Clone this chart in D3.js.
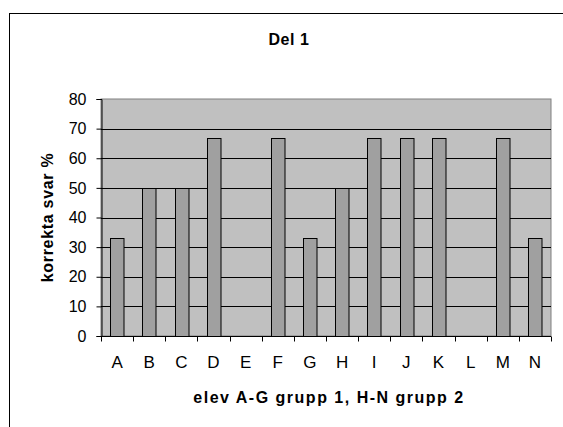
<!DOCTYPE html>
<html>
<head>
<meta charset="utf-8">
<script src="https://cdn.jsdelivr.net/npm/d3@7"></script>
<style>
  body { margin: 0; background: #fff; }
  text { font-family: "Liberation Sans", Arial, sans-serif; }
</style>
</head>
<body>
<script>
// chart data
var students = ["A","B","C","D","E","F","G","H","I","J","K","L","M","N"];
var correctPct = [33, 50, 50, 67, 0, 67, 33, 50, 67, 67, 67, 0, 67, 33];
var yTicks = [0, 10, 20, 30, 40, 50, 60, 70, 80];

var svgWidth = 563, svgHeight = 427;
var margin = { top: 99, right: 12, bottom: 91, left: 101 };
var chartWidth = svgWidth - margin.left - margin.right;
var chartHeight = svgHeight - margin.top - margin.bottom;

var svg = d3.select("body").append("svg")
  .attr("width", svgWidth)
  .attr("height", svgHeight);

// outer chart frame (right/bottom edges run off the picture)
svg.append("rect")
  .attr("x", 9.5).attr("y", 13.5)
  .attr("width", 600).attr("height", 500)
  .attr("fill", "none")
  .attr("stroke", "#000");

var chartGroup = svg.append("g")
  .attr("transform", `translate(${margin.left}, ${margin.top})`);

var x = d3.scaleBand().domain(students).range([0, chartWidth]).paddingInner(0.58).paddingOuter(0.29);
var xBand = d3.scaleBand().domain(students).range([0, chartWidth]);
var y = d3.scaleLinear().domain([0, 80]).range([chartHeight, 0]);

// plot area
chartGroup.append("rect")
  .attr("width", chartWidth).attr("height", chartHeight)
  .attr("fill", "#c0c0c0")
  .attr("stroke", "#808080");

// gridlines
chartGroup.selectAll(".grid")
  .data(yTicks.filter(d => d > 0 && d < 80))
  .enter().append("line")
  .attr("x1", 0).attr("x2", chartWidth)
  .attr("y1", d => Math.round(y(d)) + 0.5)
  .attr("y2", d => Math.round(y(d)) + 0.5)
  .attr("stroke", "#000");

// bars
chartGroup.selectAll(".bar")
  .data(correctPct)
  .enter().append("rect")
  .attr("x", (d, i) => Math.round(x(students[i])) + 0.5)
  .attr("y", d => Math.round(y(d)) + 0.5)
  .attr("width", x.bandwidth())
  .attr("height", d => chartHeight - Math.round(y(d)))
  .attr("fill", "#a0a0a0")
  .attr("stroke", "#000")
  .attr("stroke-width", 1)
  .style("display", d => d > 0 ? null : "none");

// y axis
var yAxis = chartGroup.append("g")
  .attr("transform", "translate(0.5,0)")
  .call(d3.axisLeft(y).tickValues(yTicks).tickSize(5).tickPadding(10));
yAxis.selectAll("text").attr("font-size", "16px").attr("fill", "#000").attr("font-family", "Liberation Sans, Arial, sans-serif");
yAxis.selectAll("line,path").attr("stroke", "#000");

// x axis: ticks sit between categories
var xAxisG = chartGroup.append("g")
  .attr("transform", `translate(0, ${chartHeight + 0.5})`);
xAxisG.append("line")
  .attr("x1", 0).attr("x2", chartWidth)
  .attr("stroke", "#000");
xAxisG.selectAll(".xtick")
  .data(students.concat(["end"]))
  .enter().append("line")
  .attr("x1", (d, i) => Math.round(i * xBand.bandwidth()) + 0.5)
  .attr("x2", (d, i) => Math.round(i * xBand.bandwidth()) + 0.5)
  .attr("y1", 0).attr("y2", 5)
  .attr("stroke", "#000");
xAxisG.selectAll(".xlabel")
  .data(students)
  .enter().append("text")
  .attr("x", d => xBand(d) + xBand.bandwidth() / 2)
  .attr("y", 31.5)
  .attr("text-anchor", "middle")
  .attr("font-size", "17px")
  .text(d => d);

// titles
svg.append("text")
  .attr("x", 289).attr("y", 45)
  .attr("text-anchor", "middle")
  .attr("font-size", "16px").attr("font-weight", "bold")
  .attr("letter-spacing", "0.6px")
  .text("Del 1");

svg.append("text")
  .attr("x", 329).attr("y", 403)
  .attr("text-anchor", "middle")
  .attr("font-size", "16px").attr("font-weight", "bold")
  .attr("letter-spacing", "1.5px")
  .text("elev A-G grupp 1, H-N grupp 2");

svg.append("text")
  .attr("transform", "translate(52.5, 217.5) rotate(-90)")
  .attr("text-anchor", "middle")
  .attr("font-size", "16px").attr("font-weight", "bold")
  .attr("letter-spacing", "0.7px")
  .text("korrekta svar %");
</script>
</body>
</html>
